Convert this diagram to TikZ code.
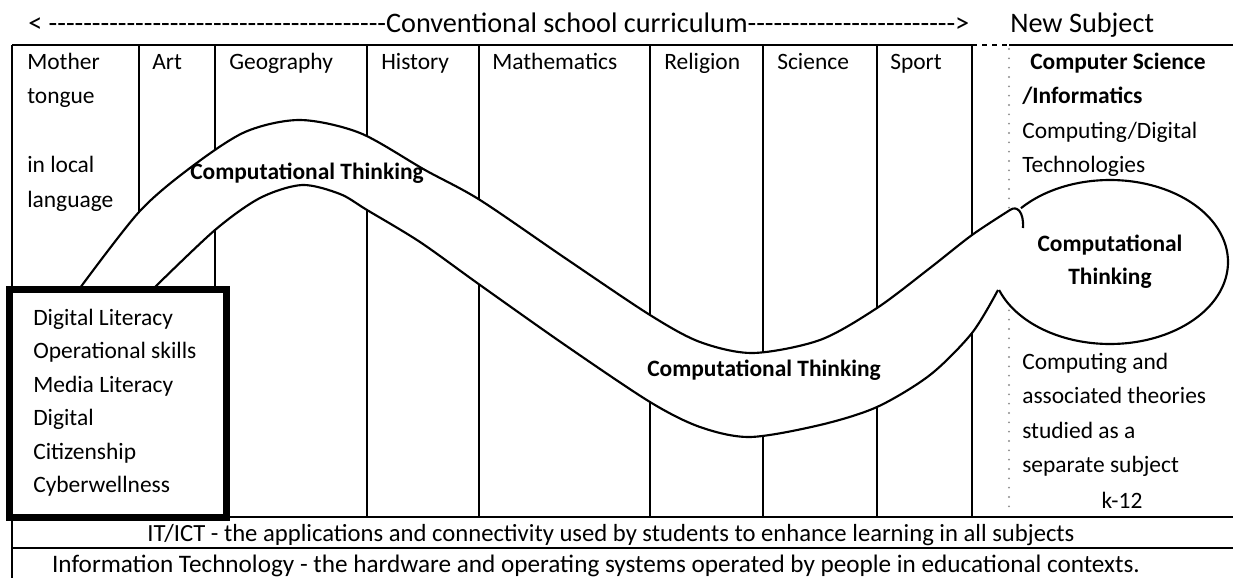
\documentclass[tikz,border=0pt]{standalone}
\usepackage{fontspec}
\setmainfont{Carlito}
\ExplSyntaxOn
\NewDocumentCommand\hyphenrun{m}{\prg_replicate:nn{#1}{-\kern0pt}}
\ExplSyntaxOff
\newcommand\topstrt{\rule{0pt}{15pt}}
\begin{document}
\begin{tikzpicture}[x=0.75pt,y=-0.75pt,
  vline/.style={line width=1.2pt},
  hline/.style={line width=1.7pt},
  curve/.style={line width=1.6pt},
  dotline/.style={color=black!45, line width=1.6pt, line cap=round, dash pattern=on 0pt off 7pt},
  body/.style={font=\fontsize{17.6}{25.9}\selectfont, inner sep=0pt},
  boxtext/.style={font=\fontsize{17.6}{25.1}\selectfont, inner sep=0pt, align=left, anchor=north west},
  coltext/.style={body, align=left, anchor=north west},
  subj/.style={body, anchor=base west},
  hdr/.style={font=\fontsize{21.2}{26}\selectfont, inner sep=0pt, anchor=base west},
  rowtext/.style={inner sep=0pt, anchor=base},
  ctlabel/.style={font=\fontsize{17.6}{24.75}\selectfont\bfseries, inner sep=0pt, align=center}
]
\useasboundingbox (0,0) rectangle (1233,578);

% grid of the table
\foreach \x in {139,215,367,479,650,763,877,972} \draw[vline] (\x,45) -- (\x,517);
\draw[vline] (12,45) -- (12,578);
\draw[hline] (12,45) -- (972,45);
\draw[hline, dash pattern=on 4pt off 3.5pt] (972,45) -- (1009,45);
\draw[hline] (1009,45) -- (1233,45);
\draw[dotline] (1009,49) -- (1009,515);
\draw[hline] (12,517) -- (1233,517);
\draw[hline] (12,548) -- (1233,548);

% band fill
\fill[white] plot[smooth] coordinates {(80,288) (139,212) (190,168) (245,132) (300,120) (360,133) (425,170) (480,200) (565,258) (650,315) (700,342) (753,353) (820,340) (877,308) (930,268) (972,235) (1010,210)}
  -- (1030,225) -- (1030,292)
  -- plot[smooth] coordinates {(998,290) (972,333) (930,375) (877,407) (820,425) (750,437) (700,427) (650,402) (565,345) (480,285) (420,242) (367,210) (340,194) (302,185) (260,198) (215,230) (154,288)}
  -- cycle;
\fill[white] plot[domain=0:360, samples=120, variable=\t] ({1110+118*cos(\t)},{262+82*sin(\t)}) -- cycle;

% band outlines
\draw[curve] plot[smooth] coordinates {(80,288) (139,212) (190,168) (245,132) (300,120) (360,133) (425,170) (480,200) (565,258) (650,315) (700,342) (753,353) (820,340) (877,308) (930,268) (972,235) (1010,210)}
  .. controls (1017,205) and (1024,212) .. (1023,228);
\draw[curve] plot[smooth] coordinates {(154,288) (215,230) (260,198) (302,185) (340,194) (367,210) (420,242) (480,285) (565,345) (650,402) (700,427) (750,437) (820,425) (877,407) (930,375) (972,333) (998,290)};
\draw[curve] plot[domain=221:520, samples=160, variable=\t] ({1110+118*cos(\t)},{262+82*sin(\t)});

% thick box
\draw[line width=5.25pt, fill=white] (9.5,289) rectangle (226,517.5);

% header
\node[hdr] (header) at (28,32) {< \hyphenrun{39}Conventional school curriculum\hyphenrun{24}>};
\node[hdr] (newsubj) at (1010,32) {New Subject};

% column texts
\node[coltext] (mother) at (27,49) {\topstrt Mother\\tongue\\[25.9pt]in local\\language};
\node[subj] (art) at (152,69) {Art};
\node[subj] (geo) at (229,69) {Geography};
\node[subj] (hist) at (381,69) {History};
\node[subj] (math) at (492,69) {Mathematics};
\node[subj] (rel) at (664,69) {Religion};
\node[subj] (sci) at (777,69) {Science};
\node[subj] (sport) at (890,69) {Sport};
\node[coltext] (cs) at (1022,49) {\topstrt\hspace*{6pt}\textbf{Computer Science}\\\textbf{/Informatics}\\Computing/Digital\\Technologies};
\node[coltext] (sep) at (1022,349) {\topstrt Computing and\\associated theories\\studied as a\\separate subject};
\node[body, anchor=base] (k12) at (1122,508) {k-12};

% box text
\node[boxtext] (dl) at (33,305) {\topstrt Digital Literacy\\Operational skills\\Media Literacy\\Digital\\Citizenship\\Cyberwellness};

% labels
\node[ctlabel] (ct1) at (307,173) {Computational Thinking};
\node[ctlabel] (ct2) at (764,370) {Computational Thinking};
\node[ctlabel] (ct3) at (1110,262) {Computational\\Thinking};

% bottom rows
\node[rowtext, font=\fontsize{18.5}{24}\selectfont] (ict) at (611,541) {IT/ICT - the applications and connectivity used by students to enhance learning in all subjects};
\node[rowtext, font=\fontsize{18.9}{24}\selectfont] (it) at (596,572) {Information Technology - the hardware and operating systems operated by people in educational contexts.};
\end{tikzpicture}
\end{document}
